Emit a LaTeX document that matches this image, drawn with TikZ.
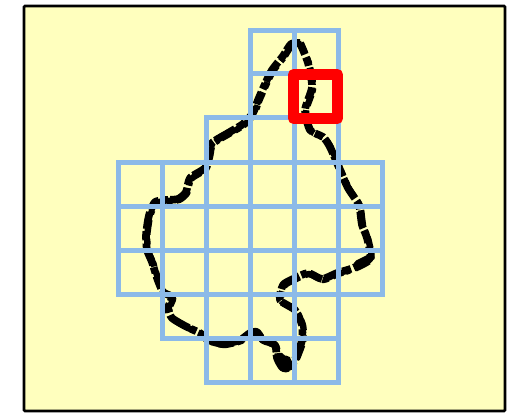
\documentclass[tikz,border=0pt]{standalone}
\usepackage{tikz}

\definecolor{paper}{RGB}{255,255,190}
\definecolor{cellblue}{RGB}{140,186,232}

\newcommand{\contourpts}{
  (300,43) (291,44) (283,56) (272,70) (265,84) (258,100) (253,113)
  (243,124) (228,133) (212,143) (209,155) (205,168) (190,178) (186,192)
  (178,199) (165,200) (155,202) (150,212) (148,220) (146,235) (147,250)
  (152,262) (157,278) (163,292) (172,297) (168,308) (172,318) (187,327)
  (200,333) (208,340) (223,344) (240,340) (250,333) (257,332) (263,340)
  (275,345) (277,358) (283,368) (292,365) (298,352) (302,340) (302,325)
  (295,310) (280,300) (283,285) (293,279) (308,273) (322,279) (337,273)
  (353,268) (370,258) (367,238) (362,225) (360,210) (358,203) (348,188)
  (340,170) (330,147) (323,137) (310,130) (305,110) (312,87) (308,63)
  (300,43)}

\tikzset{
  panel/.style={draw=black, line width=2.8pt, fill=paper, rounded corners=1pt},
  cellline/.style={draw=cellblue, line width=5pt, line cap=rect},
  outline/.style={black, line width=7.6pt, line join=round,
    dash pattern=on 17pt off 2.4pt on 9pt off 3pt on 23pt off 2.2pt on 6pt off 3.4pt on 13pt off 2.4pt},
  roughline/.style={black, line width=6.4pt, line join=round,
    dash pattern=on 6pt off 5pt on 11pt off 3pt on 4pt off 6pt on 15pt off 4pt},
  blob/.style={black, line width=11pt, line cap=round, line join=round},
  marker/.style={draw=red, line width=11pt, line join=round},
}

\begin{document}
\begin{tikzpicture}[x=1pt, y=-1pt]
    \useasboundingbox (0,0) rectangle (525,415);
    \fill[white] (0,0) rectangle (525,415);
    \path[panel] (24,6) rectangle (505,411);

    % hand-drawn contour, second pass roughens the edge
    \draw[outline] plot[smooth, tension=0.4] coordinates {\contourpts};
    \draw[roughline, xshift=1.2pt, yshift=-1pt] plot[smooth, tension=0.4] coordinates {\contourpts};
    \draw[blob] (280,358) -- (283,364) -- (286,361);
    \draw[blob, line width=8pt] (358,264) -- (370,258);

    % cells, one row at a time
    \foreach \ytop/\ybot/\xleft/\xright in {
      30/73/250/338, 73/117/250/338, 117/162/206/338, 162/206/118/382,
      206/250/118/382, 250/294/118/382, 294/338/162/338, 338/382/206/338} {
      \draw[cellline] (\xleft,\ytop) rectangle (\xright,\ybot);
      \foreach \xcell in {118,162,...,382} {
        \ifnum\xcell>\xleft \ifnum\xcell<\xright
          \draw[cellline] (\xcell,\ytop) -- (\xcell,\ybot);
        \fi\fi
      }
    }

    \draw[marker] (293.5,74.5) rectangle (337.5,118.5);
  \end{tikzpicture}
\end{document}
